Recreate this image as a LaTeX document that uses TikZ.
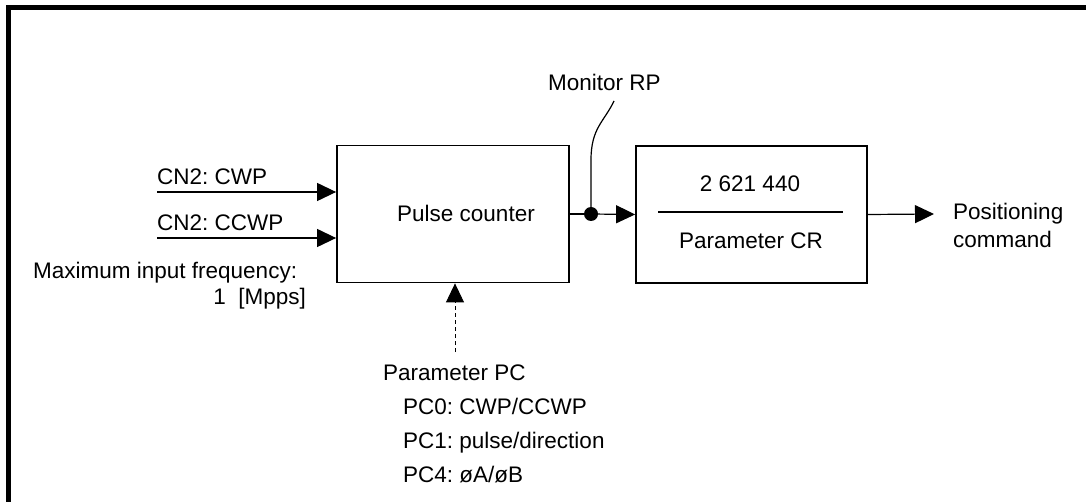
\documentclass[tikz,border=0pt]{standalone}
\usepackage{fontspec}
\setmainfont{Liberation Sans}
\usetikzlibrary{arrows.meta,calc,positioning}
\frenchspacing

\tikzset{
  block/.style={draw,line width=1.8pt,inner sep=0pt,minimum width=232pt,minimum height=137pt},
  sig/.style={line width=1.2pt,-{Triangle[length=19pt,width=18pt]}},
  lbl/.style={inner sep=0pt,font=\fontsize{22.5}{26}\selectfont},
}

\begin{document}
\begin{tikzpicture}[x=1pt,y=-1pt]
    \useasboundingbox (0,0) rectangle (1086,502);
    % Rahmen (nur oben und links sichtbar)
    \draw[line width=5pt,line join=miter] (8.5,502) -- (8.5,7.5) -- (1086,7.5);
    % Bloecke
    \node[block] (pulse) at (453,214) {};
    \node[lbl,anchor=base] (pulselbl) at (466,222) {Pulse counter};
    \node[block,minimum width=231pt] (ratio) at (751.5,214.5) {};
    \node[lbl,anchor=base] (num) at (750,192) {2 621 440};
    \node[lbl,anchor=base] (den) at (751,249) {Parameter CR};
    \draw[line width=1.2pt] (658,212) -- (843,212);
    % Eingaenge
    \coordinate (cwpin) at (157,192);
    \coordinate (ccwpin) at (157,238);
    \node[lbl,anchor=base west] (cwplbl) at (157,185) {CN2: CWP};
    \node[lbl,anchor=base west] (ccwplbl) at (157,231) {CN2: CCWP};
    \draw[sig] (cwpin) -- (pulse.west |- cwpin);
    \draw[sig] (ccwpin) -- (pulse.west |- ccwpin);
    \node[lbl,anchor=base west] (maxf) at (33,279) {Maximum input frequency:};
    \node[lbl,anchor=base east] (mpps) at (306,305) {1\ \ [Mpps]};
    % Monitor-Abgriff
    \coordinate (tap) at (591,214);
    \draw[line width=1.2pt] (pulse.east) -- (tap);
    \draw[sig] (tap) -- (ratio.west);
    \fill (tap) circle (7pt);
    \node[lbl,anchor=base west] (mon) at (548,91) {Monitor RP};
    \coordinate (monend) at (614,101);
    \draw[line width=1.2pt] (tap) -- (591,160) .. controls (591,128) and (604,122) .. (monend);
    % Ausgang
    \coordinate (outend) at (934,214);
    \draw[sig] (ratio.east) -- (outend);
    \node[lbl,anchor=north west,align=left,font=\fontsize{22.5}{28}\selectfont] (poscmd)
      at (953,203) {Positioning\\command};
    % Parameter PC
    \coordinate (pcend) at (455,352);
    \draw[sig,line width=0.9pt,dash pattern=on 4pt off 3pt] (pcend) -- (pcend |- pulse.south);
    \node[lbl,anchor=base west] (pc) at (383,380) {Parameter PC};
    \foreach \t [count=\i] in {PC0: CWP/CCWP,PC1: pulse/direction,PC4: øA/øB}
      \node[lbl,anchor=base west] (pc\i) at (403,380+34*\i) {\t};
\end{tikzpicture}
\end{document}
